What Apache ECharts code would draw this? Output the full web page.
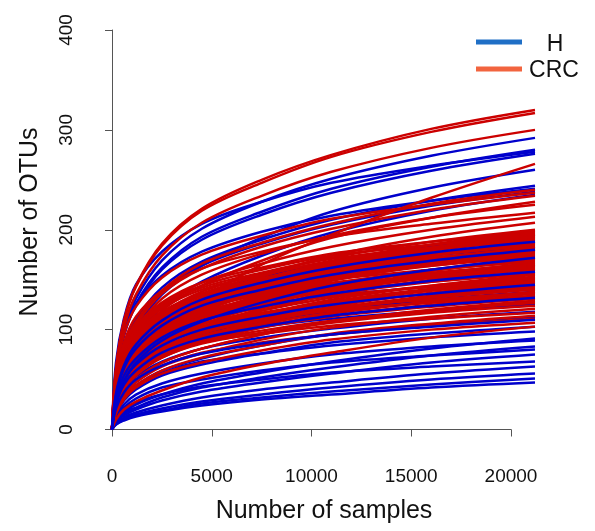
<!DOCTYPE html>
<html><head><meta charset="utf-8">
<script src="https://cdn.jsdelivr.net/npm/echarts@6/dist/echarts.min.js"></script>
<style>html,body{margin:0;padding:0;background:#fff}#c{width:595px;height:531px}</style>
</head><body><div id="c"></div>
<script>
// Sequencing depths at which each curve was read
const depths = [0, 200, 600, 1200, 2500, 4500, 7500, 11000, 16000, 21200];

// H (healthy) rarefaction curves: OTUs at each depth
const hCurves = [
  [0,55,99,131,169,201,228,251,274,292],
  [0,53,95,126,162,193,218,241,263,280],
  [0,67,111,145,178,206,228,247,264,278],
  [0,52,94,124,160,190,215,237,259,276],
  [0,39,73,101,135,164,192,218,242,260],
  [0,46,83,110,142,168,190,210,229,244],
  [0,58,96,125,154,178,198,214,229,241],
  [0,45,81,107,138,164,186,205,224,238],
  [0,35,66,92,122,148,174,197,219,235],
  [0,37,66,88,113,135,152,168,183,195],
  [0,36,64,85,109,130,147,162,177,188],
  [0,44,73,95,117,135,150,163,174,183],
  [0,34,61,81,104,124,140,155,169,180],
  [0,26,48,67,89,108,127,144,160,172],
  [0,31,56,74,96,114,129,142,155,165],
  [0,30,54,71,92,109,123,136,149,158],
  [0,36,60,78,96,111,123,134,143,150],
  [0,28,49,65,84,100,113,125,136,145],
  [0,21,40,55,74,89,105,119,132,142],
  [0,26,47,62,80,95,108,119,130,138],
  [0,25,45,59,77,91,103,114,124,132],
  [0,30,50,65,80,93,103,111,119,125],
  [0,22,40,53,68,81,92,101,111,118],
  [0,17,32,44,59,71,84,95,105,113],
  [0,21,37,50,64,76,86,95,103,110],
  [0,15,29,40,54,65,76,87,96,103],
  [0,19,33,44,57,68,76,84,92,98],
  [0,9,17,25,35,46,57,68,81,91],
  [0,13,25,35,46,56,66,75,83,89],
  [0,8,16,22,32,42,52,62,74,83],
  [0,12,22,31,42,50,59,67,74,80],
  [0,8,14,20,29,38,47,56,67,75],
  [0,10,19,27,35,43,50,57,63,68],
  [0,6,12,17,24,32,40,47,56,63],
  [0,6,11,15,21,28,35,42,50,56],
  [0,5,10,14,19,26,32,38,45,51],
  [0,5,9,13,18,24,30,35,42,47]
];

// CRC rarefaction curves: OTUs at each depth
const crcCurves = [
  [0,61,109,144,186,221,250,275,301,320],
  [0,60,108,143,184,219,247,273,298,317],
  [0,57,102,135,174,207,234,258,282,300],
  [0,25,50,70,100,130,165,195,232,266],
  [0,46,82,108,139,166,187,206,226,240],
  [0,57,95,123,152,175,194,211,225,237],
  [0,44,80,105,136,161,183,201,220,234],
  [0,34,64,89,119,144,169,192,212,228],
  [0,43,77,101,131,155,176,194,212,225],
  [0,52,87,113,139,161,178,193,206,217],
  [0,40,72,96,124,147,166,183,200,213],
  [0,31,58,81,108,130,153,174,193,207],
  [0,38,68,90,116,138,156,172,188,200],
  [0,30,56,78,103,125,147,167,185,199],
  [0,48,79,103,127,147,162,176,188,198],
  [0,37,67,89,114,136,154,169,185,197],
  [0,29,55,76,102,123,145,165,182,196],
  [0,47,78,101,125,144,160,174,185,195],
  [0,37,66,87,113,134,151,167,182,194],
  [0,29,54,75,100,122,143,162,179,193],
  [0,46,77,100,123,142,157,171,182,192],
  [0,36,65,86,111,132,149,164,180,191],
  [0,36,65,86,110,131,148,163,179,190],
  [0,45,76,98,121,140,155,168,180,189],
  [0,28,53,73,98,118,139,158,175,188],
  [0,28,52,73,97,118,138,157,174,187],
  [0,35,63,84,108,128,145,160,175,186],
  [0,35,63,83,107,128,144,159,174,185],
  [0,44,74,96,118,136,151,164,175,184],
  [0,27,51,71,95,115,135,154,170,183],
  [0,35,62,82,106,126,142,157,171,182],
  [0,43,72,94,116,134,148,161,172,181],
  [0,27,50,70,94,113,133,151,167,180],
  [0,34,61,81,104,124,140,154,168,179],
  [0,34,61,80,103,123,139,153,167,178],
  [0,27,50,69,92,112,131,149,165,177],
  [0,42,70,92,113,130,144,157,167,176],
  [0,33,60,79,102,121,137,151,165,175],
  [0,33,59,78,101,120,136,150,164,174],
  [0,42,69,90,111,128,142,154,164,173],
  [0,26,48,67,89,108,127,144,160,172],
  [0,26,48,67,89,108,127,144,159,171],
  [0,32,58,77,99,117,133,146,160,170],
  [0,32,57,76,98,117,132,145,159,169],
  [0,40,67,87,108,124,138,150,160,168],
  [0,25,47,65,87,105,124,140,155,167],
  [0,32,56,75,96,115,129,143,156,166],
  [0,40,66,86,106,122,135,147,157,165],
  [0,25,46,64,85,103,121,138,153,164],
  [0,31,55,73,95,112,127,140,153,163],
  [0,31,55,73,94,112,126,139,152,162],
  [0,24,45,63,84,101,119,135,150,161],
  [0,38,64,83,102,118,131,142,152,160],
  [0,30,54,71,92,109,123,136,149,158],
  [0,30,53,71,91,108,122,135,148,157],
  [0,37,62,81,100,115,128,139,148,156],
  [0,23,43,60,81,98,115,130,144,155],
  [0,29,52,69,89,106,119,132,144,153],
  [0,23,43,59,79,96,112,128,141,152],
  [0,36,60,79,97,112,124,134,143,151],
  [0,28,51,67,86,103,116,128,140,149],
  [0,28,50,67,86,102,115,127,139,148],
  [0,22,41,57,76,93,109,123,137,147],
  [0,28,49,65,84,100,113,125,136,145],
  [0,22,40,56,75,91,107,121,134,144],
  [0,34,57,74,92,106,117,127,136,143],
  [0,27,48,63,82,97,110,121,133,141],
  [0,27,48,63,81,97,109,120,132,140],
  [0,21,39,54,72,87,102,116,128,138],
  [0,33,55,71,88,101,112,122,130,137],
  [0,26,46,61,79,94,106,117,128,136],
  [0,32,54,70,86,99,110,119,127,134],
  [0,25,45,60,77,92,104,114,125,133],
  [0,25,45,59,76,90,102,113,123,131],
  [0,19,36,50,67,81,95,108,120,129],
  [0,19,36,50,67,81,95,108,119,128],
  [0,24,43,57,74,88,99,109,119,127],
  [0,24,42,56,72,86,97,107,117,124],
  [0,18,34,47,63,76,90,102,113,121],
  [0,28,47,61,75,87,96,104,111,117],
  [0,17,32,44,59,72,84,96,106,114],
  [0,21,38,50,64,77,87,95,104,111],
  [0,16,30,42,56,67,79,90,100,107],
  [0,10,20,28,39,52,65,77,92,103]
];

// H curves drawn above the CRC curves (indices into hCurves)
const hOnTop = [10, 12, 13, 15, 17, 20, 24];

const xTicks = [0, 5000, 10000, 15000, 20000];
const yTicks = [0, 100, 200, 300, 400];
const legendNames = ['H', 'CRC'];
const xTitle = 'Number of samples';
const yTitle = 'Number of OTUs';

const H_COLOR = '#0000CC', CRC_COLOR = '#CC0000';
const LEG_H = '#1F6FC6', LEG_CRC = '#F2643F';

function mk(curve, color) {
  return {
    type: 'line', xAxisIndex: 0, yAxisIndex: 0,
    data: depths.map((d, i) => [d, curve[i]]),
    smooth: 0.35, showSymbol: false, silent: true,
    lineStyle: { width: 2.5, color: color }, z: 2
  };
}
const series = [];
hCurves.forEach((c, i) => { if (!hOnTop.includes(i)) series.push(mk(c, H_COLOR)); });
crcCurves.forEach(c => series.push(mk(c, CRC_COLOR)));
hCurves.forEach((c, i) => { if (hOnTop.includes(i)) series.push(mk(c, H_COLOR)); });

const FONT = 'Liberation Sans, Arial, sans-serif';
const chart = echarts.init(document.getElementById('c'), null, { renderer: 'canvas' });
chart.setOption({
  animation: false,
  backgroundColor: '#ffffff',
  grid: [
    { left: 112, right: 60, top: 30, bottom: 101.5 },
    { left: 112, right: 84, top: 30, bottom: 101.5 }
  ],
  xAxis: [
    { gridIndex: 0, type: 'value', min: 0, max: 21200, show: false },
    { gridIndex: 1, type: 'value', min: xTicks[0], max: xTicks[xTicks.length - 1], interval: 5000, offset: 17,
      axisLine: { show: true, lineStyle: { color: '#555', width: 1 } },
      axisTick: { show: true, length: 7, lineStyle: { color: '#555' } },
      axisLabel: { fontSize: 19, color: '#111', fontFamily: FONT, margin: 21,
        formatter: v => xTicks.includes(v) ? String(v) : '' },
      splitLine: { show: false } }
  ],
  yAxis: [
    { gridIndex: 0, type: 'value', min: 0, max: 400, show: false },
    { gridIndex: 1, type: 'value', min: yTicks[0], max: yTicks[yTicks.length - 1], interval: 100, offset: 20,
      axisLine: { show: true, lineStyle: { color: '#555', width: 1 } },
      axisTick: { show: true, length: 7, lineStyle: { color: '#555' } },
      axisLabel: { fontSize: 19, color: '#111', fontFamily: FONT, rotate: 90, margin: 16,
        formatter: v => yTicks.includes(v) ? String(v) : '' },
      splitLine: { show: false } }
  ],
  series: series,
  graphic: [
    { type: 'text', x: 324, y: 511, style: { text: xTitle, fontSize: 25, fontFamily: FONT, fill: '#111', align: 'center', verticalAlign: 'middle' }, z: 100 },
    { type: 'text', x: 30, y: 222, rotation: Math.PI / 2, style: { text: yTitle, fontSize: 25, fontFamily: FONT, fill: '#111', align: 'center', verticalAlign: 'middle' }, z: 100 },
    { type: 'line', shape: { x1: 476, y1: 42, x2: 522, y2: 42 }, style: { stroke: LEG_H, lineWidth: 5 }, z: 100 },
    { type: 'line', shape: { x1: 476, y1: 69, x2: 522, y2: 69 }, style: { stroke: LEG_CRC, lineWidth: 5 }, z: 100 },
    { type: 'text', x: 555, y: 45, style: { text: legendNames[0], fontSize: 23, fontFamily: FONT, fill: '#111', align: 'center', verticalAlign: 'middle' }, z: 100 },
    { type: 'text', x: 554, y: 71, style: { text: legendNames[1], fontSize: 23, fontFamily: FONT, fill: '#111', align: 'center', verticalAlign: 'middle' }, z: 100 }
  ]
});
</script>
</body></html>
